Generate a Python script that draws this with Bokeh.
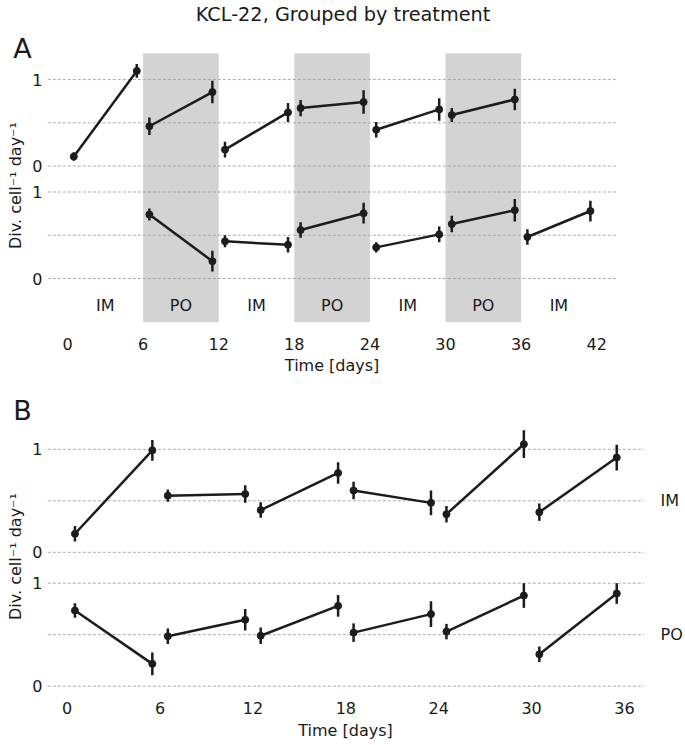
import math
from bokeh.plotting import figure
from bokeh.layouts import column
from bokeh.embed import file_html
from bokeh.resources import INLINE
from bokeh.core.properties import value

# ---------------- data ----------------
title_text = "KCL-22, Grouped by treatment"
y_label = "Div. cell\u207b\u00b9 day\u207b\u00b9"
x_label = "Time [days]"

# Panel A (two rows; upper row drawn with an offset)
a_days_top = [0.5, 5.5, 6.5, 11.5, 12.5, 17.5, 18.5, 23.5, 24.5, 29.5, 30.5, 35.5]
a_top_val = [0.11, 1.10, 0.46, 0.855, 0.19, 0.62, 0.67, 0.74, 0.42, 0.655, 0.59, 0.77]
a_top_err = [0.05, 0.08, 0.10, 0.13, 0.09, 0.11, 0.095, 0.135, 0.09, 0.13, 0.08, 0.125]
a_days_bot = [6.5, 11.5, 12.5, 17.5, 18.5, 23.5, 24.5, 29.5, 30.5, 35.5, 36.5, 41.5]
a_bot_val = [0.74, 0.20, 0.43, 0.39, 0.56, 0.755, 0.36, 0.51, 0.63, 0.79, 0.48, 0.78]
a_bot_err = [0.07, 0.12, 0.07, 0.09, 0.09, 0.12, 0.06, 0.09, 0.095, 0.13, 0.09, 0.12]
a_ticks = [0, 6, 12, 18, 24, 30, 36, 42]
a_treat_mid = [3, 9, 15, 21, 27, 33, 39]
a_treat_lbl = ["IM", "PO", "IM", "PO", "IM", "PO", "IM"]
a_po_start = [6, 18, 30]
a_po_end = [12, 24, 36]

# Panel B (IM row on top, PO row below)
b_days = [0.5, 5.5, 6.5, 11.5, 12.5, 17.5, 18.5, 23.5, 24.5, 29.5, 30.5, 35.5]
b_im_val = [0.18, 0.99, 0.55, 0.566, 0.41, 0.77, 0.60, 0.48, 0.37, 1.05, 0.39, 0.92]
b_im_err = [0.075, 0.10, 0.06, 0.085, 0.075, 0.105, 0.085, 0.12, 0.08, 0.135, 0.085, 0.125]
b_po_val = [0.735, 0.217, 0.485, 0.645, 0.49, 0.78, 0.52, 0.70, 0.53, 0.88, 0.31, 0.90]
b_po_err = [0.07, 0.11, 0.075, 0.105, 0.08, 0.105, 0.09, 0.125, 0.075, 0.12, 0.075, 0.10]
b_ticks = [0, 6, 12, 18, 24, 30, 36]
b_row_lbl = ["IM", "PO"]

OFFSET = 1.3
y_ticks = [0, 1, OFFSET, OFFSET + 1]
y_tick_lbl = ["0", "1", "0", "1"]
grid_ticks = [0, 0.5, 1, OFFSET, OFFSET + 0.5, OFFSET + 1]

INK = "#1c1c1c"
TXT = "#1a1a1a"
FONT = value("DejaVu Sans")
W = 685


class Mapper:
    """Converts reference pixel positions to data values for a full-canvas frame."""
    def __init__(self, x0px, kx, y0px, ky):
        self.x0px, self.kx, self.y0px, self.ky = x0px, kx, y0px, ky

    def x(self, px):
        return (px - self.x0px) / self.kx

    def y(self, py):
        return (self.y0px - py) / self.ky


def make_fig(m, top_px, height):
    xr = (m.x(0), m.x(W))
    yr = (m.y(top_px + height), m.y(top_px))
    p = figure(width=W, height=height, x_range=xr, y_range=yr,
               x_axis_type=None, y_axis_type=None,
               output_backend="svg", toolbar_location=None,
               min_border=0, min_border_left=0, min_border_right=0,
               min_border_top=0, min_border_bottom=0)
    p.outline_line_color = None
    p.xgrid.visible = False
    p.ygrid.visible = False
    p.background_fill_color = "white"
    p.border_fill_color = "white"
    return p


def txt(p, x, y, t, size="16px", align="center", baseline="middle", angle=0.0):
    p.text(x=x, y=y, text=t, text_align=align, text_baseline=baseline,
           angle=angle, text_font=FONT, text_font_size=size, text_color=TXT)


def frame_guides(p, m, gx0, gx1, xticks, x_lab_py):
    # dashed horizontal grid across the axes area
    p.segment(x0=[gx0] * len(grid_ticks), x1=[gx1] * len(grid_ticks),
              y0=grid_ticks, y1=grid_ticks,
              line_color="#a3a3a3", line_width=0.9, line_dash="3 2")
    # y tick labels
    txt(p, [m.x(42)] * len(y_ticks), y_ticks, y_tick_lbl, align="right")
    # x tick labels
    txt(p, xticks, [m.y(x_lab_py)] * len(xticks), [str(t) for t in xticks])


def draw_series(p, days, vals, errs, off):
    ys = [v + off for v in vals]
    xs_pairs = [[days[i], days[i + 1]] for i in range(0, len(days), 2)]
    ys_pairs = [[ys[i], ys[i + 1]] for i in range(0, len(ys), 2)]
    p.multi_line(xs_pairs, ys_pairs, line_color=INK, line_width=2.5)
    p.segment(x0=days, y0=[y - e for y, e in zip(ys, errs)],
              x1=days, y1=[y + e for y, e in zip(ys, errs)],
              line_color=INK, line_width=2.5)
    p.scatter(days, ys, size=7, color=INK)


# ---------------- Panel A ----------------
mA = Mapper(67.0, 12.6, 278.0, 86.5)
HA = 378
pA = make_fig(mA, 0, HA)
a_x0, a_x1 = mA.x(47.3), mA.x(616.0)
a_y0, a_y1 = mA.y(321.7), mA.y(52.7)
pA.quad(left=a_po_start, right=a_po_end, bottom=a_y0, top=a_y1,
        fill_color="#d3d3d3", line_color=None)
frame_guides(pA, mA, a_x0, a_x1, a_ticks, 343.3)
draw_series(pA, a_days_top, a_top_val, a_top_err, OFFSET)
draw_series(pA, a_days_bot, a_bot_val, a_bot_err, 0.0)
txt(pA, a_treat_mid, [mA.y(305.3)] * len(a_treat_mid), a_treat_lbl)
txt(pA, [mA.x(331.6)], [mA.y(365.0)], [x_label])
txt(pA, [mA.x(15.0)], [mA.y(185.0)], [y_label], angle=math.pi / 2)
txt(pA, [mA.x(342.5)], [mA.y(14.0)], [title_text], size="19.3px")
txt(pA, [mA.x(22.0)], [mA.y(48.0)], ["A"], size="27px")

# ---------------- Panel B ----------------
mB = Mapper(66.7, 15.48, 685.7, 103.0)
HB = 363
pB = make_fig(mB, HA, HB)
b_x0, b_x1 = mB.x(47.3), mB.x(643.3)
frame_guides(pB, mB, b_x0, b_x1, b_ticks, 707.0)
draw_series(pB, b_days, b_im_val, b_im_err, OFFSET)
draw_series(pB, b_days, b_po_val, b_po_err, 0.0)
txt(pB, [mB.x(660.0)] * 2, [OFFSET + 0.5, 0.5], b_row_lbl, align="left")
txt(pB, [mB.x(345.0)], [mB.y(730.0)], [x_label])
txt(pB, [mB.x(15.0)], [mB.y(556.0)], [y_label], angle=math.pi / 2)
txt(pB, [mB.x(22.0)], [mB.y(410.0)], ["B"], size="27px")

layout = column(pA, pB)
open("out.html", "w").write(file_html(layout, INLINE))
